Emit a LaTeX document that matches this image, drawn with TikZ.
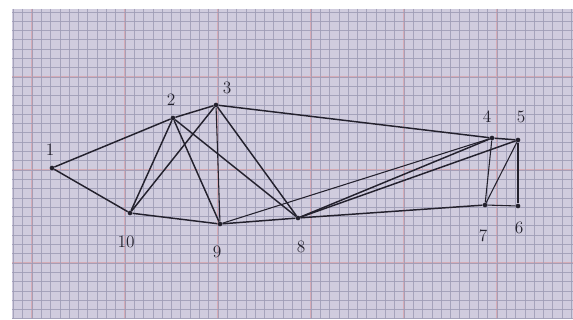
\documentclass[tikz,border=0pt]{standalone}
\definecolor{paper}{RGB}{208,204,222}
\definecolor{gridc}{RGB}{158,156,182}
\definecolor{redg}{RGB}{214,172,182}
\definecolor{ink}{RGB}{35,33,45}
\tikzset{
  vtx/.style={circle,fill=ink,inner sep=0pt,minimum size=3.5pt},
  lbl/.style={font=\fontsize{13}{13}\selectfont,text=ink,inner sep=0pt},
  edge/.style={draw=ink,line width=1.1pt},
  thin edge/.style={draw=ink,line width=0.8pt}
}
\begin{document}
\begin{tikzpicture}[x=0.75pt,y=-0.75pt]
\useasboundingbox (0,0) rectangle (573,320);
\fill[white] (0,0) rectangle (573,320);
\fill[paper] (12,9) rectangle (573,319);
\begin{scope}
\clip (12,9) rectangle (573,319);
\foreach \x in {32,125,218,311,404,497} {
  \draw[redg,line width=0.8pt] (\x,9) -- (\x,319);
}
\foreach \y in {77,170,263} {
  \draw[redg,line width=0.8pt] (12,\y) -- (573,\y);
}
\foreach \k in {-3,...,58} {
  \draw[gridc,line width=0.5pt,opacity=0.85] ({32+9.3*\k},9) -- ({32+9.3*\k},319);
}
\foreach \k in {-8,...,26} {
  \draw[gridc,line width=0.55pt,opacity=0.85] (12,{77+9.3*\k}) -- (573,{77+9.3*\k});
}
\end{scope}
% vertices
\node[vtx] (v1) at (52,168) {};
\node[vtx] (v2) at (173,118) {};
\node[vtx] (v3) at (216,105) {};
\node[vtx] (v4) at (492,138) {};
\node[vtx] (v5) at (518,140) {};
\node[vtx] (v6) at (518,206) {};
\node[vtx] (v7) at (485,205) {};
\node[vtx] (v8) at (298,218) {};
\node[vtx] (v9) at (220,224) {};
\node[vtx] (v10) at (130,213) {};
% labels
\node[lbl] (l1) at (50,150) {1};
\node[lbl] (l2) at (171,100) {2};
\node[lbl] (l3) at (227,88) {3};
\node[lbl] (l4) at (487,117) {4};
\node[lbl] (l5) at (521,117) {5};
\node[lbl] (l6) at (519,228) {6};
\node[lbl] (l7) at (483,236) {7};
\node[lbl] (l8) at (301,247) {8};
\node[lbl] (l9) at (217,252) {9};
\node[lbl] (l10) at (126,242) {10};
% edges
\draw[edge] (v1) -- (v2);
\draw[edge] (v1) -- (v10);
\draw[edge] (v2) -- (v3);
\draw[edge] (v2) -- (v10);
\draw[edge] (v2) -- (v9);
\draw[edge] (v2) -- (v8);
\draw[edge] (v3) -- (v10);
\draw[thin edge] (v3) -- (v9);
\draw[edge] (v3) -- (v8);
\draw[edge] (v3) -- (v4);
\draw[edge] (v10) -- (v9);
\draw[edge] (v9) -- (v8);
\draw[thin edge] (v9) -- (v4);
\draw[edge] (v8) -- (v4);
\draw[edge] (v8) -- (v5);
\draw[edge] (v8) -- (v7);
\draw[edge] (v4) -- (v5);
\draw[thin edge] (v4) -- (v7);
\draw[thin edge] (v5) -- (v7);
\draw[thin edge] (v5) -- (v6);
\draw[thin edge] (v7) -- (v6);
\end{tikzpicture}
\end{document}
